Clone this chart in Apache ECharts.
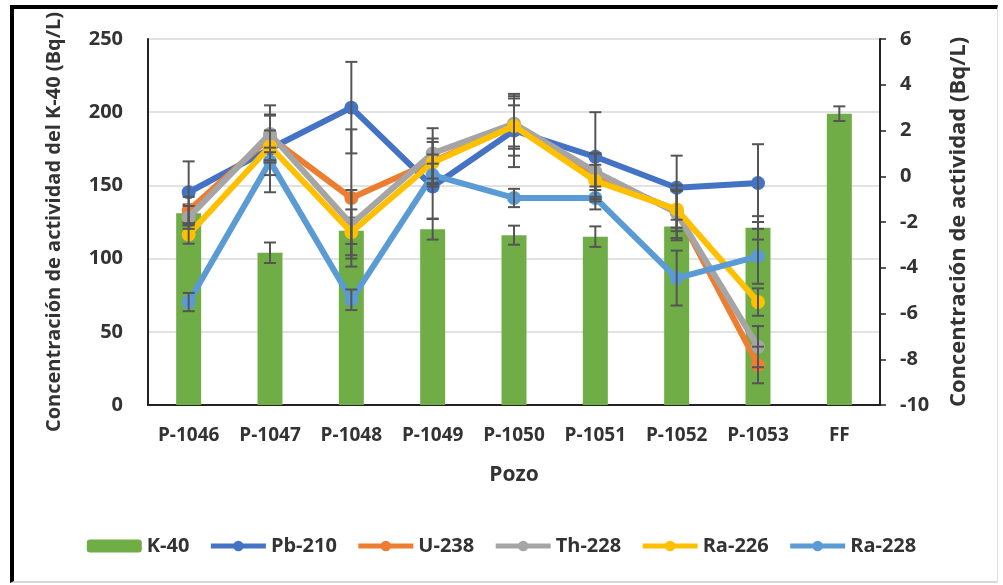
<!DOCTYPE html>
<html>
<head>
<meta charset="utf-8">
<script src="https://cdn.jsdelivr.net/npm/echarts@6/dist/echarts.min.js"></script>
<style>
  html, body { margin: 0; padding: 0; background: #fff; }
  #chart { width: 1003px; height: 585px; }
  #frame { position: absolute; left: 10px; top: 5px; width: 988px; height: 578px; box-sizing: border-box;
           border-top: 4px solid #000; border-left: 4px solid #000; border-right: 1px solid #e0e0e0; border-bottom: 2px solid #d8d8d8; pointer-events: none; }
</style>
</head>
<body>
<div id="chart"></div>
<div id="frame"></div>
<script>
const categories = ['P-1046', 'P-1047', 'P-1048', 'P-1049', 'P-1050', 'P-1051', 'P-1052', 'P-1053', 'FF'];

const k40      = [131, 104, 119, 120, 116, 115, 122, 121, 199];
const k40Err   = [6, 7, 9, 7, 6.5, 7, 8, 8, 5];

const pb210    = [-0.7, 1.2, 3.0, -0.45, 2.0, 0.85, -0.5, -0.3, null];
const pb210Err = [1.35, 1.9, 2.0, 1.4, 1.6, 1.95, 1.4, 1.7, null];

const u238     = [-1.5, 1.7, -0.95, 0.65, 2.2, 0.0, -1.5, -8.25, null];
const u238Err  = [0.6, 1.0, 3.0, 1.0, 1.3, 1.0, 0.9, 0.8, null];

const th228    = [-1.8, 1.85, -2.1, 1.0, 2.3, 0.2, -1.6, -7.45, null];
const th228Err = [0.5, 0.8, 1.5, 1.1, 1.1, 0.8, 1.2, 0.9, null];

const ra226    = [-2.55, 1.3, -2.45, 0.6, 2.2, -0.2, -1.45, -5.5, null];
const ra226Err = [0.4, 0.7, 1.0, 0.9, 0.9, 0.7, 0.8, 0.6, null];

const ra228    = [-5.5, 0.65, -5.4, 0.05, -0.95, -0.95, -4.45, -3.5, null];
const ra228Err = [0.4, 0.6, 0.45, 0.5, 0.4, 0.5, 1.2, 1.2, null];

const leftTicks = [0, 50, 100, 150, 200, 250];
const rightTicks = [-10, -8, -6, -4, -2, 0, 2, 4, 6];

const FONT = 'Open Sans';
const TXT = '#333';

function errData(vals, errs) {
  const out = [];
  vals.forEach((v, i) => { if (v != null && errs[i] != null) out.push([i, v, errs[i]]); });
  return out;
}
function errRender(params, api) {
  const i = api.value(0), v = api.value(1), e = api.value(2);
  const hi = api.coord([i, v + e]);
  const lo = api.coord([i, v - e]);
  const w = 6;
  const style = { stroke: '#555', lineWidth: 2, fill: null };
  return { type: 'group', children: [
    { type: 'line', shape: { x1: hi[0], y1: hi[1], x2: lo[0], y2: lo[1] }, style },
    { type: 'line', shape: { x1: hi[0] - w, y1: hi[1], x2: hi[0] + w, y2: hi[1] }, style },
    { type: 'line', shape: { x1: lo[0] - w, y1: lo[1], x2: lo[0] + w, y2: lo[1] }, style }
  ]};
}
function errSeries(vals, errs, axisIdx, z) {
  return { type: 'custom', yAxisIndex: axisIdx, renderItem: errRender, data: errData(vals, errs),
           encode: { x: 0, y: 1 }, z: z, silent: true, legendHoverLink: false, tooltip: { show: false } };
}
function lineSeries(name, data, color, z) {
  return { name, type: 'line', yAxisIndex: 1, data, z,
           symbol: 'circle', symbolSize: 14,
           lineStyle: { width: 6, color: color },
           itemStyle: { color: color, borderWidth: 0 } };
}

const chart = echarts.init(document.getElementById('chart'));
chart.setOption({
  animation: false,
  backgroundColor: '#fff',
  grid: { left: 148, right: 123, top: 39, bottom: 180 },
  legend: {
    data: ['K-40', 'Pb-210', 'U-238', 'Th-228', 'Ra-226', 'Ra-228'],
    left: 'center', top: 531, itemWidth: 55, itemHeight: 13, itemGap: 19,
    lineStyle: { width: 5 },
    textStyle: { fontFamily: FONT, fontWeight: 'bold', fontSize: 20, color: TXT }
  },
  xAxis: {
    type: 'category', data: categories,
    name: 'Pozo', nameLocation: 'middle', nameGap: 60,
    nameTextStyle: { fontFamily: FONT, fontWeight: 'bold', fontSize: 21, color: TXT },
    axisLine: { lineStyle: { color: '#222', width: 2 } },
    axisTick: { show: false },
    axisLabel: { fontFamily: FONT, fontWeight: 'bold', fontSize: 19, color: TXT, margin: 21, interval: 0 }
  },
  yAxis: [
    {
      type: 'value', min: 0, max: 250, interval: 50, position: 'left',
      name: 'Concentración de actividad del K-40 (Bq/L)', nameLocation: 'middle', nameGap: 84,
      nameTextStyle: { fontFamily: FONT, fontWeight: 'bold', fontSize: 20, color: TXT },
      axisLine: { show: true, lineStyle: { color: '#222', width: 2 } },
      axisTick: { show: false },
      axisLabel: { fontFamily: FONT, fontWeight: 'bold', fontSize: 20, color: TXT, margin: 25,
                   formatter: v => leftTicks.includes(v) ? String(v) : '' },
      splitLine: { show: true, lineStyle: { color: '#d9d9d9', width: 1.5 } }
    },
    {
      type: 'value', min: -10, max: 6, interval: 2, position: 'right',
      name: 'Concentración de actividad (Bq/L)', nameLocation: 'middle', nameGap: 68,
      nameTextStyle: { fontFamily: FONT, fontWeight: 'bold', fontSize: 22, color: TXT },
      axisLine: { show: true, lineStyle: { color: '#222', width: 2 } },
      axisTick: { show: true, length: 6, lineStyle: { color: '#222', width: 1.5 } },
      axisLabel: { fontFamily: FONT, fontWeight: 'bold', fontSize: 20, color: TXT, margin: 20,
                   formatter: v => rightTicks.includes(v) ? String(v) : '' },
      splitLine: { show: false }
    }
  ],
  series: [
    { name: 'K-40', type: 'bar', yAxisIndex: 0, data: k40, barWidth: 25, itemStyle: { color: '#70AD47' }, z: 2 },
    errSeries(k40, k40Err, 0, 3),
    lineSeries('Pb-210', pb210, '#4472C4', 4),
    lineSeries('U-238', u238, '#ED7D31', 5),
    lineSeries('Th-228', th228, '#A5A5A5', 6),
    lineSeries('Ra-226', ra226, '#FFC000', 7),
    lineSeries('Ra-228', ra228, '#5B9BD5', 8),
    errSeries(pb210, pb210Err, 1, 9),
    errSeries(u238, u238Err, 1, 9),
    errSeries(th228, th228Err, 1, 9),
    errSeries(ra226, ra226Err, 1, 9),
    errSeries(ra228, ra228Err, 1, 9)
  ]
});
</script>
</body>
</html>
